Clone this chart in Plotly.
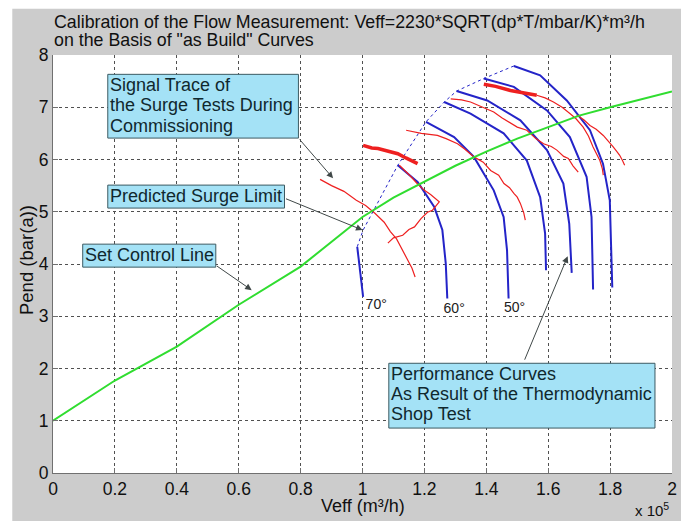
import plotly.graph_objects as go

# ---------------- data (x in units of 1e5 m3/h, y in bar(a)) ----------------
control_x = [0.0, 0.2, 0.4, 0.6, 0.8, 0.9, 1.0, 1.1, 1.2, 1.3, 1.4, 1.5, 1.6, 1.7, 1.8, 1.9, 2.0]
control_y = [1.0, 1.77, 2.42, 3.22, 3.95, 4.42, 4.90, 5.27, 5.58, 5.88, 6.15, 6.40, 6.62, 6.84, 7.00, 7.15, 7.30]

surge_x = [0.983, 1.002, 1.114, 1.205, 1.264, 1.304, 1.392, 1.489]
surge_y = [4.33, 4.65, 5.89, 6.72, 7.10, 7.31, 7.55, 7.79]

perf_curves = [
    ([0.983, 0.991, 1.002], [4.33, 3.94, 3.37]),
    ([1.114, 1.178, 1.232, 1.258, 1.269, 1.274], [5.89, 5.57, 5.09, 4.65, 4.01, 3.34]),
    ([1.205, 1.296, 1.360, 1.424, 1.456, 1.467, 1.472], [6.72, 6.43, 6.05, 5.41, 4.90, 4.26, 3.34]),
    ([1.264, 1.349, 1.456, 1.531, 1.574, 1.590, 1.593], [7.10, 6.88, 6.50, 5.98, 5.28, 4.58, 3.88]),
    ([1.304, 1.403, 1.510, 1.596, 1.649, 1.668, 1.676], [7.31, 7.13, 6.75, 6.18, 5.54, 4.77, 3.83]),
    ([1.392, 1.489, 1.596, 1.670, 1.724, 1.740, 1.745], [7.55, 7.39, 6.94, 6.43, 5.67, 4.90, 3.51]),
    ([1.489, 1.574, 1.660, 1.735, 1.777, 1.799, 1.807], [7.79, 7.61, 7.13, 6.56, 5.92, 5.22, 3.55]),
]
curve_labels = ["70°", "60°", "50°"]
curve_label_x = [1.010, 1.262, 1.457]
curve_label_y = [3.21, 3.12, 3.15]

# surge test signal traces (thin)
trace_a_x = [0.863, 0.90, 0.94, 0.98, 1.01, 1.04, 1.07, 1.09, 1.11, 1.13, 1.146, 1.16, 1.170]
trace_a_y = [5.62, 5.50, 5.39, 5.22, 5.12, 4.97, 4.80, 4.62, 4.48, 4.25, 4.05, 3.92, 3.75]
trace_b_x = [1.119, 1.135, 1.157, 1.175, 1.20, 1.22, 1.248, 1.226, 1.21, 1.189, 1.168, 1.15, 1.13, 1.10, 1.082]
trace_b_y = [5.89, 5.80, 5.67, 5.55, 5.41, 5.33, 5.19, 5.03, 4.99, 4.87, 4.71, 4.66, 4.55, 4.50, 4.40]
trace_c_x = [1.141, 1.19, 1.242, 1.27, 1.307, 1.33, 1.360, 1.39, 1.414, 1.44, 1.457, 1.475, 1.489, 1.50, 1.510, 1.521, 1.526]
trace_c_y = [6.56, 6.50, 6.46, 6.40, 6.30, 6.20, 6.05, 5.95, 5.79, 5.70, 5.54, 5.46, 5.35, 5.28, 5.16, 4.98, 4.84]
trace_d_x = [1.285, 1.32, 1.349, 1.39, 1.424, 1.45, 1.478, 1.50, 1.531, 1.56, 1.585, 1.61, 1.628, 1.65, 1.665, 1.68, 1.697]
trace_d_y = [7.16, 7.14, 7.10, 7.00, 6.91, 6.80, 6.69, 6.62, 6.56, 6.40, 6.30, 6.25, 6.18, 6.06, 6.02, 5.88, 5.76]
trace_e_x = [1.563, 1.59, 1.617, 1.645, 1.670, 1.69, 1.713, 1.73, 1.745, 1.757, 1.767, 1.775, 1.778]
trace_e_y = [7.23, 7.18, 7.10, 7.00, 6.88, 6.78, 6.62, 6.45, 6.24, 6.10, 5.98, 5.82, 5.70]
trace_f_x = [1.692, 1.715, 1.735, 1.755, 1.778, 1.795, 1.810, 1.822, 1.831, 1.84, 1.847]
trace_f_y = [6.85, 6.76, 6.65, 6.58, 6.46, 6.35, 6.24, 6.15, 6.08, 5.98, 5.89]
# thick (dense) trace parts
thick_b_x = [1.002, 1.03, 1.05, 1.08, 1.114, 1.14, 1.167, 1.178]
thick_b_y = [6.27, 6.22, 6.21, 6.16, 6.11, 6.03, 5.95, 5.92]
thick_e_x = [1.392, 1.43, 1.478, 1.52, 1.563]
thick_e_y = [7.44, 7.40, 7.32, 7.28, 7.23]

x_ticks = [0, 0.2, 0.4, 0.6, 0.8, 1.0, 1.2, 1.4, 1.6, 1.8, 2.0]
x_tick_text = ["0", "0.2", "0.4", "0.6", "0.8", "1", "1.2", "1.4", "1.6", "1.8", "2"]
y_ticks = [0, 1, 2, 3, 4, 5, 6, 7, 8]

# callout boxes: lines, box x0, x1, y_bottom, y_top, text line centres
box_texts = [
    ["Signal Trace of", "the Surge Tests During", "Commissioning"],
    ["Predicted Surge Limit"],
    ["Set Control Line"],
    ["Performance Curves", "As Result of the Thermodynamic", "Shop Test"],
]
box_x0 = [0.177, 0.177, 0.096, 1.085]
box_x1 = [0.793, 0.748, 0.526, 1.945]
box_y0 = [6.41, 5.07, 3.94, 0.86]
box_y1 = [7.63, 5.51, 4.38, 2.10]
box_line_y = [[7.42, 7.04, 6.65], [5.30], [4.17], [1.887, 1.504, 1.122]]
# arrows: tail -> head
arrow_tail_x = [0.793, 0.748, 0.525, 1.522]
arrow_tail_y = [6.41, 5.26, 3.98, 2.14]
arrow_head_x = [0.905, 1.000, 0.642, 1.663]
arrow_head_y = [5.64, 4.65, 3.50, 4.15]

# ---------------- styling ----------------
FONT = "Liberation Sans, Arial, sans-serif"
BLUE = "#2424c8"
RED = "#ee2020"
GREEN = "#30dd30"
BOX_BG = "#a4e2f6"
BOX_BORDER = "#3c5a62"
TXT = "#10282e"
ARROW = "#404848"
DARK = "#101010"

fig = go.Figure()

fig.add_trace(go.Scatter(x=surge_x, y=surge_y, mode="lines",
                         line=dict(color=BLUE, width=1, dash="dot"), hoverinfo="skip"))
for cx, cy in perf_curves:
    fig.add_trace(go.Scatter(x=cx, y=cy, mode="lines",
                             line=dict(color=BLUE, width=2), hoverinfo="skip"))

for tx, ty in [(trace_a_x, trace_a_y), (trace_b_x, trace_b_y), (trace_c_x, trace_c_y),
               (trace_d_x, trace_d_y), (trace_e_x, trace_e_y), (trace_f_x, trace_f_y)]:
    fig.add_trace(go.Scatter(x=tx, y=ty, mode="lines",
                             line=dict(color=RED, width=1.2), hoverinfo="skip"))
for tx, ty in [(thick_b_x, thick_b_y), (thick_e_x, thick_e_y)]:
    fig.add_trace(go.Scatter(x=tx, y=ty, mode="lines",
                             line=dict(color=RED, width=3.5), hoverinfo="skip"))

fig.add_trace(go.Scatter(x=control_x, y=control_y, mode="lines",
                         line=dict(color=GREEN, width=2), hoverinfo="skip"))

fig.add_trace(go.Scatter(x=curve_label_x, y=curve_label_y, mode="text", text=curve_labels,
                         textposition="middle right",
                         textfont=dict(family=FONT, size=14, color="#202020"), hoverinfo="skip"))

annotations = []
shapes = [
    # white page strip at left/top of the grey figure
    dict(type="rect", xref="paper", yref="paper", x0=-0.2, x1=-0.0658, y0=-0.3, y1=1.3,
         fillcolor="white", line=dict(width=0), layer="below"),
    dict(type="rect", xref="paper", yref="paper", x0=-0.2, x1=1.2, y0=1.1105, y1=1.3,
         fillcolor="white", line=dict(width=0), layer="below"),
]

for lines, x0, x1, y0, y1, ly in zip(box_texts, box_x0, box_x1, box_y0, box_y1, box_line_y):
    shapes.append(dict(type="rect", xref="x", yref="y", x0=x0, x1=x1, y0=y0, y1=y1,
                       fillcolor=BOX_BG, line=dict(color=BOX_BORDER, width=1), layer="above"))
    for t, yy in zip(lines, ly):
        annotations.append(dict(x=x0 + 0.005, y=yy, xref="x", yref="y", text=t, showarrow=False,
                                xanchor="left", yanchor="middle", borderpad=0,
                                font=dict(family=FONT, size=18, color=TXT)))

for ax_, ay_, hx, hy in zip(arrow_tail_x, arrow_tail_y, arrow_head_x, arrow_head_y):
    annotations.append(dict(x=hx, y=hy, xref="x", yref="y", ax=ax_, ay=ay_, axref="x", ayref="y",
                            text="", showarrow=True, arrowhead=2, arrowsize=1.3, arrowwidth=1,
                            arrowcolor=ARROW, standoff=0, startstandoff=0))

# title (two lines) and axis labels
annotations.append(dict(x=-0.0016, y=1.079, xref="paper", yref="paper",
                        text="Calibration of the Flow Measurement: Veff=2230*SQRT(dp*T/mbar/K)*m³/h",
                        showarrow=False, xanchor="left", yanchor="middle",
                        font=dict(family=FONT, size=17.8, color=DARK)))
annotations.append(dict(x=-0.0016, y=1.036, xref="paper", yref="paper",
                        text="on the Basis of \"as Build\" Curves",
                        showarrow=False, xanchor="left", yanchor="middle",
                        font=dict(family=FONT, size=17.8, color=DARK)))
annotations.append(dict(x=-0.0417, y=0.51, xref="paper", yref="paper", text="Pend (bar(a))",
                        textangle=-90, showarrow=False, xanchor="center", yanchor="middle",
                        font=dict(family=FONT, size=18.5, color=DARK)))
annotations.append(dict(x=0.5, y=-0.078, xref="paper", yref="paper", text="Veff (m³/h)",
                        showarrow=False, xanchor="center", yanchor="middle",
                        font=dict(family=FONT, size=18, color=DARK)))
annotations.append(dict(x=0.937, y=-0.088, xref="paper", yref="paper", text="x 10<sup>5</sup>",
                        showarrow=False, xanchor="left", yanchor="middle",
                        font=dict(family=FONT, size=15, color=DARK)))

axis_common = dict(showgrid=True, gridcolor="#505050", griddash="dot", gridwidth=1,
                   showline=True, linecolor="#707070", linewidth=1, mirror=False,
                   ticks="inside", ticklen=5, tickcolor="#707070", zeroline=False,
                   tickfont=dict(family=FONT, size=17.5, color=DARK))

fig.update_layout(
    width=681, height=513,
    margin=dict(l=45, r=13, t=47, b=48),
    paper_bgcolor="#cccccc", plot_bgcolor="white",
    showlegend=False,
    xaxis=dict(range=[0, 2], tickvals=x_ticks, ticktext=x_tick_text, **axis_common),
    yaxis=dict(range=[0, 8], tickvals=y_ticks, **axis_common),
    annotations=annotations,
    shapes=shapes,
)

fig.write_html("out.html")
